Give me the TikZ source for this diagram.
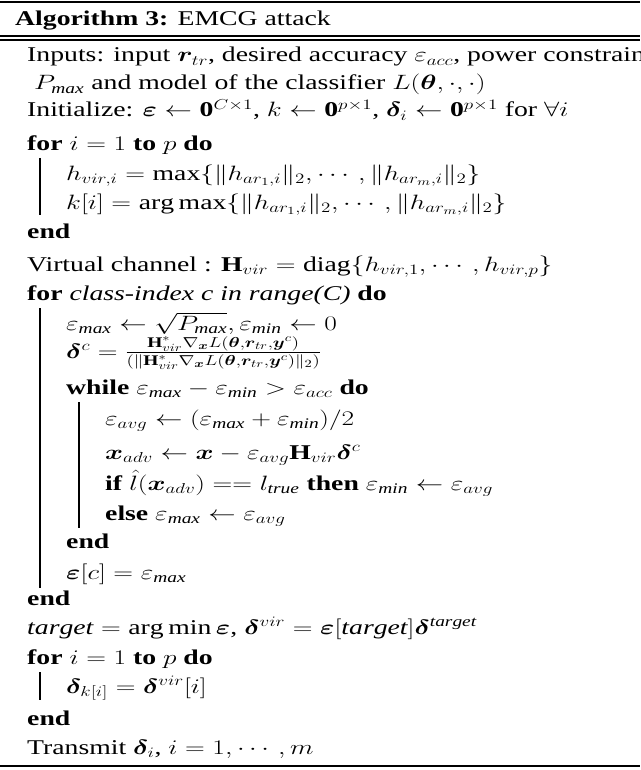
\documentclass[tikz,border=0pt]{standalone}
\usepackage{amsmath,amssymb,bm,graphicx}
\usepackage{fontspec}
\setmainfont{Liberation Serif}
\DeclareMathOperator*{\argmax}{arg\,max}
\DeclareMathOperator*{\argmin}{arg\,min}
\DeclareMathOperator{\diag}{diag}
\newcommand{\widen}[1]{\scalebox{1.32}[1]{#1}}
\begin{document}
\begin{tikzpicture}[x=1pt,y=-1pt,
  ln/.style={anchor=base west,inner sep=0pt,font=\fontsize{21}{24}\selectfont},
  bar/.style={line width=1.2pt}]
\useasboundingbox (0,0) rectangle (640,770);
\draw[line width=2.5pt] (0,2) -- (640,2);
\draw[line width=1.2pt] (0,36) -- (640,36);
\draw[line width=1.2pt] (0,40) -- (640,40);
\draw[line width=1.2pt] (0,766) -- (640,766);
\node[ln] (t) at (15,26) {\widen{\textbf{Algorithm 3:} EMCG attack}};
\node[ln] (l1) at (27,62) {\widen{Inputs: input $\bm{r}_{tr}$, desired accuracy $\varepsilon_{acc}$, power constraint}};
\node[ln] (l2) at (34,90) {\widen{$P_{\mathit{max}}$ and model of the classifier $L(\bm{\theta},\cdot,\cdot)$}};
\node[ln] (l3) at (27,117) {\widen{Initialize: $\bm{\varepsilon}\leftarrow\mathbf{0}^{C\times1}$, $k\leftarrow\mathbf{0}^{p\times1}$, $\bm{\delta}_i\leftarrow\mathbf{0}^{p\times1}$ for $\forall i$}};
\node[ln] (l4) at (27,150) {\widen{\textbf{for} $i=1$ \textbf{to} $p$ \textbf{do}}};
\node[ln] (l5) at (66,180) {\widen{$h_{vir,i}=\max\{\|h_{ar_1,i}\|_2,\cdots,\|h_{ar_m,i}\|_2\}$}};
\node[ln] (l6) at (66,209) {\widen{$k[i]=\argmax\{\|h_{ar_1,i}\|_2,\cdots,\|h_{ar_m,i}\|_2\}$}};
\node[ln] (l7) at (27,238) {\widen{\textbf{end}}};
\node[ln] (l8) at (27,271) {\widen{Virtual channel : $\mathbf{H}_{vir}=\diag\{h_{vir,1},\cdots,h_{vir,p}\}$}};
\node[ln] (l9) at (27,300) {\widen{\textbf{for} \textit{class-index c in range(C)} \textbf{do}}};
\node[ln] (l10) at (66,330) {\widen{$\varepsilon_{\mathit{max}}\leftarrow\sqrt{P_{\mathit{max}}},\varepsilon_{\mathit{min}}\leftarrow0$}};
\node[ln] (l11) at (66,358) {\widen{$\bm{\delta}^c=\frac{\mathbf{H}^*_{vir}\nabla_{\bm{x}}L(\bm{\theta},\bm{r}_{tr},\bm{y}^c)}{(\|\mathbf{H}^*_{vir}\nabla_{\bm{x}}L(\bm{\theta},\bm{r}_{tr},\bm{y}^c)\|_2)}$}};
\node[ln] (l12) at (66,394) {\widen{\textbf{while} $\varepsilon_{\mathit{max}}-\varepsilon_{\mathit{min}}>\varepsilon_{acc}$ \textbf{do}}};
\node[ln] (l13) at (105,425) {\widen{$\varepsilon_{avg}\leftarrow(\varepsilon_{\mathit{max}}+\varepsilon_{\mathit{min}})/2$}};
\node[ln] (l14) at (105,459) {\widen{$\bm{x}_{adv}\leftarrow\bm{x}-\varepsilon_{avg}\mathbf{H}_{vir}\bm{\delta}^c$}};
\node[ln] (l15) at (105,490) {\widen{\textbf{if} $\hat{l}(\bm{x}_{adv})==l_{\mathit{true}}$ \textbf{then} $\varepsilon_{\mathit{min}}\leftarrow\varepsilon_{avg}$}};
\node[ln] (l16) at (105,520) {\widen{\textbf{else} $\varepsilon_{\mathit{max}}\leftarrow\varepsilon_{avg}$}};
\node[ln] (l17) at (66,548) {\widen{\textbf{end}}};
\node[ln] (l18) at (66,579) {\widen{$\bm{\varepsilon}[c]=\varepsilon_{\mathit{max}}$}};
\node[ln] (l19) at (27,605) {\widen{\textbf{end}}};
\node[ln] (l20) at (27,634) {\widen{$\mathit{target}=\argmin\bm{\varepsilon}$, $\bm{\delta}^{vir}=\bm{\varepsilon}[\mathit{target}]\bm{\delta}^{\mathit{target}}$}};
\node[ln] (l21) at (27,664) {\widen{\textbf{for} $i=1$ \textbf{to} $p$ \textbf{do}}};
\node[ln] (l22) at (66,693) {\widen{$\bm{\delta}_{k[i]}=\bm{\delta}^{vir}[i]$}};
\node[ln] (l23) at (27,725) {\widen{\textbf{end}}};
\node[ln] (l24) at (27,754) {\widen{Transmit $\bm{\delta}_i$, $i=1,\cdots,m$}};
\draw[bar] (40,158) -- (40,215);
\draw[bar] (40,308) -- (40,588);
\draw[bar] (79,402) -- (79,528);
\draw[bar] (40,672) -- (40,700);
\end{tikzpicture}
\end{document}
